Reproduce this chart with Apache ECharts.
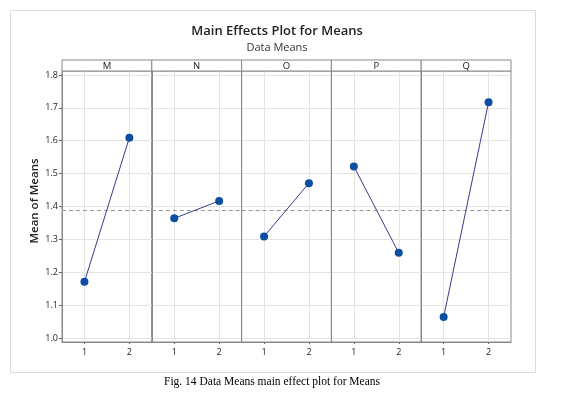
<!DOCTYPE html>
<html>
<head>
<meta charset="utf-8">
<script src="https://cdn.jsdelivr.net/npm/echarts@6/dist/echarts.min.js"></script>
<style>html,body{margin:0;padding:0;background:#fff;}#c{width:572px;height:396px;}</style>
</head>
<body>
<div id="c"></div>
<script>
// ---- data ----
const factors = ['M', 'N', 'O', 'P', 'Q'];
const levels = [1, 2];
const valuesM = [1.171, 1.609];
const valuesN = [1.364, 1.417];
const valuesO = [1.309, 1.471];
const valuesP = [1.522, 1.259];
const valuesQ = [1.064, 1.717];
const yTicks = [1.0, 1.1, 1.2, 1.3, 1.4, 1.5, 1.6, 1.7, 1.8];
const allValues = [valuesM, valuesN, valuesO, valuesP, valuesQ];

// ---- layout ----
const plotLeft = 62, plotRight = 511, plotTop = 71, plotBottom = 342;
const stripTop = 60;
const panelW = (plotRight - plotLeft) / factors.length;
const grandMean = allValues.flat().reduce((a, b) => a + b, 0) / allValues.flat().length;

const gridColor = '#888';
const font = '"Open Sans", "Noto Sans", sans-serif';

const grids = [], xAxes = [], yAxes = [], series = [], graphics = [];
factors.forEach((f, i) => {
  const left = plotLeft + i * panelW;
  grids.push({
    left: left, top: plotTop, width: panelW, height: plotBottom - plotTop,
    show: true, borderColor: gridColor, borderWidth: 1, backgroundColor: 'transparent'
  });
  xAxes.push({
    type: 'value', gridIndex: i, min: 0.5, max: 2.5,
    axisLine: { show: true, lineStyle: { color: gridColor, width: 1 } },
    axisTick: { show: true, customValues: levels, length: 2, lineStyle: { color: '#666' } },
    axisLabel: { customValues: levels, fontSize: 9, color: '#222', fontFamily: font, margin: 6 },
    splitLine: { show: true, lineStyle: { color: '#e4e4e4', width: 1 } }
  });
  yAxes.push({
    type: 'value', gridIndex: i, min: 0.988, max: 1.812,
    axisLine: { show: true, lineStyle: { color: gridColor, width: 1 } },
    axisTick: { show: i === 0, customValues: yTicks, length: 3, lineStyle: { color: '#666' } },
    axisLabel: { show: i === 0, customValues: yTicks, fontSize: 9, color: '#222', fontFamily: font, margin: 4,
      formatter: v => v.toFixed(1) },
    splitLine: { show: true, lineStyle: { color: '#e4e4e4', width: 1 } }
  });
  series.push({
    type: 'line', xAxisIndex: i, yAxisIndex: i,
    data: levels.map((lv, k) => [lv, allValues[i][k]]),
    symbol: 'circle', symbolSize: 8,
    itemStyle: { color: '#0b4ea2' },
    lineStyle: { color: '#3a3a8c', width: 1 },
    animation: false, z: 5,
    markLine: {
      silent: true, symbol: 'none', animation: false,
      label: { show: false },
      lineStyle: { color: '#999', type: [4, 3], width: 1 },
      data: [{ yAxis: grandMean }]
    }
  });
  graphics.push({
    type: 'rect', shape: { x: left, y: stripTop, width: panelW, height: plotTop - stripTop },
    style: { fill: '#fff', stroke: gridColor, lineWidth: 1 }, z: 10
  });
  graphics.push({
    type: 'text', x: left + panelW / 2, y: (stripTop + plotTop) / 2 + 0.5,
    style: { text: f, fontSize: 9.5, fill: '#222', fontFamily: font, align: 'center', verticalAlign: 'middle' }, z: 11
  });
});

// y axis title
graphics.push({
  type: 'text', x: 35, y: 201, rotation: Math.PI / 2,
  style: { text: 'Mean of Means', fontSize: 11.5, fontWeight: 600, fill: '#222', fontFamily: font,
    align: 'center', verticalAlign: 'middle' }
});
// outer frame
graphics.push({
  type: 'rect', shape: { x: 10.5, y: 10.5, width: 525, height: 362 },
  style: { fill: 'none', stroke: '#dcdcdc', lineWidth: 1 }, z: 0
});
// caption
graphics.push({
  type: 'text', x: 272, y: 382,
  style: { text: 'Fig. 14 Data Means main effect plot for Means', fontSize: 11.5, fill: '#000',
    fontFamily: '"Liberation Serif", "Times New Roman", serif', align: 'center', verticalAlign: 'middle' }
});

const chart = echarts.init(document.getElementById('c'), null, { renderer: 'canvas' });
chart.setOption({
  backgroundColor: '#fff',
  animation: false,
  title: [
    { text: 'Main Effects Plot for Means', left: 272, top: 20, textAlign: 'center',
      textStyle: { fontSize: 13, fontWeight: 600, color: '#222', fontFamily: font } },
    { text: 'Data Means', left: 272, top: 37, textAlign: 'center',
      textStyle: { fontSize: 11, fontWeight: 'normal', color: '#333', fontFamily: font } }
  ],
  grid: grids, xAxis: xAxes, yAxis: yAxes, series: series,
  graphic: graphics
});
</script>
</body>
</html>
